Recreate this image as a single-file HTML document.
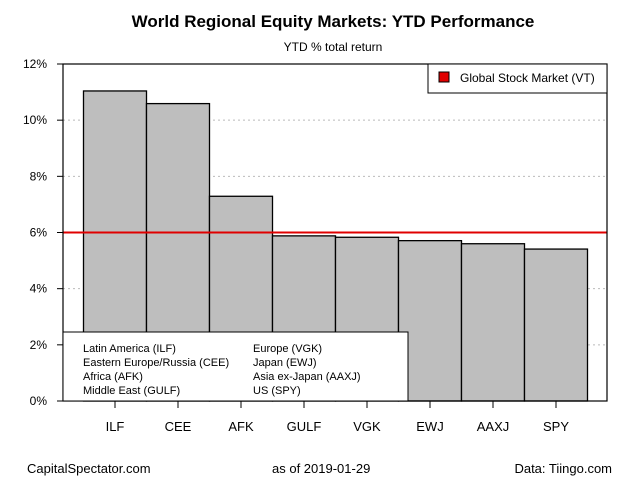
<!DOCTYPE html>
<html><head><meta charset="utf-8"><style>
body{margin:0;background:#fff;}
svg{font-family:"Liberation Sans",Arial,sans-serif;display:block}
</style></head><body>
<svg id="chart" width="640" height="480">
<text x="333" y="27" text-anchor="middle" font-size="17" font-weight="bold">World Regional Equity Markets: YTD Performance</text>
<text x="333" y="51" text-anchor="middle" font-size="12">YTD % total return</text>
<g id="grid"></g><g id="bars"></g><g id="axes"></g>
<text x="27" y="473" font-size="13">CapitalSpectator.com</text>
<text x="272" y="473" font-size="13">as of   2019-01-29</text>
<text x="612" y="473" text-anchor="end" font-size="13">Data: Tiingo.com</text>
</svg>
<script>
const categories=["ILF","CEE","AFK","GULF","VGK","EWJ","AAXJ","SPY"];
const values=[11.04,10.59,7.29,5.88,5.83,5.71,5.60,5.41];
const benchmark=6.0;
const yTicks=[0,2,4,6,8,10,12];
const legendLeft=["Latin America (ILF)","Eastern Europe/Russia (CEE)","Africa (AFK)","Middle East (GULF)"];
const legendRight=["Europe (VGK)","Japan (EWJ)","Asia ex-Japan (AAXJ)","US (SPY)"];
const NS="http://www.w3.org/2000/svg";
const L=63,R=607,T=64,B=401,x0=83.5,bw=63;
const y=v=>B-(v/12)*(B-T);
const x=i=>x0+i*bw;
function mk(tag,at,parent){const e=document.createElementNS(NS,tag);for(const k in at)e.setAttribute(k,at[k]);parent.appendChild(e);return e;}
const grid=document.getElementById('grid'),bars=document.getElementById('bars'),axes=document.getElementById('axes');
yTicks.forEach(t=>{
 if(t>0&&t<12){const g=mk('line',{x1:L,x2:R,y1:y(t),y2:y(t),stroke:'#bbb','stroke-dasharray':'2,3'},grid);
 
 }
 const tk=mk('line',{x1:L-6,x2:L,y1:y(t),y2:y(t),stroke:'#000'},axes);
 
 
 const lb=mk('text',{x:L-16,y:y(t)+4,'text-anchor':'end','font-size':12},axes);lb.textContent=t+'%';
 
 
});
categories.forEach((c,i)=>{
 const r=mk('rect',{x:x(i),y:y(values[i]),width:bw,height:B-y(values[i]),fill:'#bebebe',stroke:'#000','stroke-width':1.3},bars);
 
 
 const cx=x(i)+bw/2;
 const tk=mk('line',{x1:cx,x2:cx,y1:B,y2:B+7,stroke:'#000'},axes);
 
 
 const lb=mk('text',{x:cx,y:B+30,'text-anchor':'middle','font-size':13},axes);lb.textContent=c;
 
 
});
const vl=mk('line',{x1:L,x2:R,y1:y(benchmark),y2:y(benchmark),stroke:'#e00000','stroke-width':2},axes);


const fr=mk('rect',{x:L,y:T,width:R-L,height:B-T,fill:'none',stroke:'#000','stroke-width':1.2},axes);


const lg=mk('g',{},axes);


mk('rect',{x:428,y:T,width:R-428,height:29,fill:'#fff',stroke:'#000'},lg);
mk('rect',{x:439,y:72,width:10,height:10,fill:'#e00000',stroke:'#000'},lg);
const lt=mk('text',{x:460,y:82,'font-size':12},lg);lt.textContent='Global Stock Market (VT)';
const bl=mk('g',{},axes);


mk('rect',{x:L,y:332,width:408-L,height:B-332,fill:'#fff',stroke:'#000'},bl);
legendLeft.forEach((s,i)=>{const t=mk('text',{x:83,y:352+i*14,'font-size':11},bl);t.textContent=s;
 
 });
legendRight.forEach((s,i)=>{const t=mk('text',{x:253,y:352+i*14,'font-size':11},bl);t.textContent=s;
 
 });
</script>
</body></html>
